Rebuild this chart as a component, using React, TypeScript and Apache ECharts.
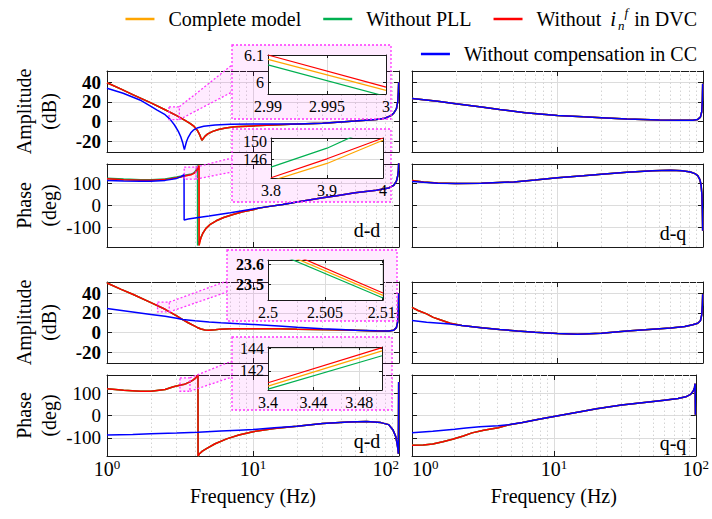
import React, { useEffect, useRef } from 'react';
import * as echarts from 'echarts';

const FONT = "'Liberation Serif', 'Times New Roman', serif";

const SERIES_NAMES = ['Complete model', 'Without PLL', 'Without i_n^f in DVC', 'Without compensation in CC'];
const SERIES_COLORS = ['#FFA500', '#00B050', '#FF0000', '#0000FF'];

const FREQ_MIN = 1;
const FREQ_MAX = 100;
const MINOR_FREQS = [2, 3, 4, 5, 6, 7, 8, 9, 20, 30, 40, 50, 60, 70, 80, 90];
const AMP_TICKS = [-20, 0, 20, 40];
const PHASE_TICKS = [-100, 0, 100];
const AMP_RANGE = [-31, 51.5];
const PHASE_RANGE_TOP = [-190, 190];
const PHASE_RANGE_BOTTOM = [-182, 182];

// ---------- d-d amplitude ----------
const ddAmpTail = [[30, -1.7], [50, 0.5], [70, 2.2], [80, 3.4], [88, 6], [92, 8.5], [96, 13], [98, 20], [99, 30], [99.5, 40]];
const ddAmpRedHead = [[1, 39.5], [1.25, 33], [1.5, 27.5], [2, 19], [2.5, 12], [3, 6], [3.4, 1.5], [3.7, -1.8], [3.95, -5], [4.15, -8.8], [4.3, -13], [4.4, -16.8], [4.47, -19], [4.55, -17.5], [4.7, -14.8], [4.9, -12.5], [5.3, -10], [5.8, -8], [6.5, -6.5], [7.5, -5.4], [10, -4.4], [15, -3.3], [20, -2.6]];
const ddAmpBlueHead = [[1, 34], [1.29, 28.8], [1.68, 22], [2, 15.5], [2.19, 12], [2.5, 7], [2.7, 2.5], [2.9, -3.5], [3.08, -10], [3.2, -15.5], [3.3, -21.5], [3.36, -26.5], [3.39, -28.5], [3.43, -25.5], [3.5, -20.5], [3.6, -16], [3.75, -11.5], [3.9, -8.8], [4.2, -6.2], [4.6, -4.8], [5.5, -3.5], [7, -2.8], [10, -2.6], [15, -2.6], [20, -2.5]];

// ---------- d-d phase ----------
const ddPhaseTail = [[13, -4], [16, 5], [20, 16], [30, 35], [37.5, 45], [50, 58], [70, 70], [85, 80], [92, 92], [96, 112], [98, 135], [99, 160], [99.5, 195]];
const ddPhaseAfterJump = [[4.55, -125], [4.75, -106], [5.1, -86], [5.6, -70], [6.3, -55], [7.3, -41], [8.5, -29], [10, -19], [11, -12]];
const ddPhaseRedHead = [[1, 122], [1.3, 118], [1.7, 115.5], [2, 115.5], [2.5, 118.5], [3, 127], [3.4, 135], [3.8, 142.1], [3.9, 146.2], [4, 150.7], [4.1, 159], [4.2, 171], [4.27, 183], [4.275, -183], [4.32, -168], [4.4, -148]];
const ddPhaseGreenHead = [[1, 125], [1.3, 121], [1.7, 118], [2, 118], [2.5, 121], [3, 130], [3.4, 138], [3.8, 144.4], [3.9, 148.5], [3.95, 151], [4, 154], [4.07, 162], [4.13, 172], [4.17, 183], [4.175, -183], [4.25, -170], [4.32, -160], [4.4, -146]];
const ddPhaseBlueHead = [[1, 114], [1.3, 112], [1.7, 111], [2, 111.5], [2.5, 115], [3, 124], [3.2, 131], [3.33, 139], [3.37, 143], [3.375, -66], [3.6, -62], [4, -57], [5, -48], [7, -33], [10, -16]];

// ---------- q-d amplitude ----------
const qdAmpTail = [[85, 1.6], [92, 2.4], [96, 5], [98, 11], [99, 24], [99.5, 40]];
const qdAmpRedHead = [[1, 50.5], [1.25, 44], [1.5, 39], [2, 30.5], [2.5, 23.7], [3, 17], [3.3, 13.2], [3.6, 10], [3.9, 7.3], [4.15, 5.2], [4.4, 3.6], [4.7, 2.6], [5, 2.4], [5.5, 2.9], [6, 3.5], [7, 3.9], [10, 4], [15, 3.8], [20, 3.4], [35, 2.9], [50, 2.3], [70, 1.7]];
const qdAmpBlueHead = [[1, 24.5], [1.5, 21], [2, 18.5], [2.5, 16.5], [3, 14.5], [3.3, 13.3], [4, 12], [5, 10.8], [6, 10], [8, 9], [10, 8.3], [15, 6.8], [20, 5.5], [30, 3.8], [40, 3], [50, 2.4], [70, 1.8]];

// ---------- q-d phase ----------
const qdPhaseTail = [[20, -48], [30, -36], [45, -29], [60, -27], [75, -32], [85, -41], [91, -65], [95, -95], [97, -125], [98.5, -155], [99, -172], [99.5, 150]];
const qdPhaseRedHead = [[1, 120], [1.3, 113], [1.7, 109], [2, 109.5], [2.5, 117], [2.85, 129], [3.2, 137], [3.4, 140.9], [3.5, 144.1], [3.7, 151], [3.9, 160], [4.05, 169], [4.15, 177], [4.2, 182], [4.205, -182], [4.3, -172], [4.5, -160], [4.8, -149], [5.5, -127], [6.6, -105], [8, -88], [10, -73], [14, -58]];
const qdPhaseBlueHead = [[1, -88], [1.5, -85], [2, -82], [3, -79], [4.2, -75], [6, -70], [8, -66], [10, -63], [14, -55]];

// ---------- d-q ----------
const dqAmp = [[1, 23.6], [1.5, 20.8], [2, 18.2], [3, 14.8], [4, 12.2], [6, 9], [10, 6.3], [15, 4.8], [20, 4], [30, 2.6], [50, 1.6], [70, 1.3], [85, 1.4], [92, 2.2], [96, 4.5], [98, 10], [99, 22], [99.5, 38.6]];
const dqPhaseTail = [[2, 100.5], [3, 101.5], [5, 108], [7, 117], [10, 127], [15, 136], [20, 143], [30, 152], [45, 159], [60, 161], [72, 159], [82, 153], [88, 146], [92, 137], [95, 120], [97, 95], [98.3, 50], [99, -20], [99.5, -115]];
const dqPhaseRedHead = [[1, 114], [1.2, 108], [1.5, 103]];
const dqPhaseBlueHead = [[1, 110], [1.2, 106], [1.5, 102]];

// ---------- q-q ----------
const qqAmpTail = [[2.2, 7.2], [3, 5], [4, 3.2], [5.3, 1.6], [7, 0.2], [10, -1], [13.7, -1.7], [20, -0.7], [30, 1.6], [40, 2.8], [60, 4.6], [75, 6.2], [85, 8], [92, 9.5], [96, 12], [98, 18], [99, 28], [99.5, 39]];
const qqAmpRedHead = [[1, 25.6], [1.1, 22.5], [1.26, 19], [1.4, 15.5], [1.56, 13], [1.83, 9.5]];
const qqAmpBlueHead = [[1, 12.3], [1.26, 10.6], [1.56, 9.6], [1.83, 8.6]];
const qqPhaseTail = [[6, -31], [8, -16], [10, -4], [15, 16], [20, 30], [30, 47], [45, 60], [60, 69], [75, 76], [85, 84], [92, 95], [96, 110], [98, 125], [99, 143], [99.5, 3]];
const qqPhaseRedHead = [[1, -134], [1.2, -133], [1.4, -128], [1.65, -118], [1.93, -107], [2.3, -92], [2.65, -78], [3.2, -66], [4.05, -55], [4.75, -43]];
const qqPhaseBlueHead = [[1, -78], [1.4, -71], [2, -62], [2.4, -56], [3, -51], [4.05, -46], [4.75, -42]];

// ---------- zoom insets ----------
const in1Orange = [[2.99, 6.084], [3.0, 5.971]];
const in1Green = [[2.99, 6.064], [3.0, 5.949]];
const in1Red = [[2.99, 6.1], [3.0, 5.983]];
const in2Orange = [[3.8, 141.4], [3.9, 145.2], [4.0, 150.2]];
const in2Green = [[3.8, 144.4], [3.9, 148.5], [4.0, 154]];
const in2Red = [[3.8, 142.1], [3.9, 146.2], [4.0, 150.7]];
const in3Orange = [[2.5, 23.687], [2.5101, 23.443]];
const in3Green = [[2.5, 23.673], [2.5101, 23.43]];
const in3Red = [[2.5, 23.702], [2.5101, 23.455]];
const in4Orange = [[3.4, 140.63], [3.5, 143.8]];
const in4Green = [[3.4, 140.36], [3.5, 143.36]];
const in4Red = [[3.4, 140.93], [3.5, 144.1]];

const ddAmpRed = [...ddAmpRedHead, ...ddAmpTail];
const ddAmpBlue = [...ddAmpBlueHead, ...ddAmpTail];
const ddPhaseRed = [...ddPhaseRedHead, ...ddPhaseAfterJump, ...ddPhaseTail];
const ddPhaseGreen = [...ddPhaseGreenHead, ...ddPhaseAfterJump, ...ddPhaseTail];
const ddPhaseBlue = [...ddPhaseBlueHead, ...ddPhaseTail];
const qdAmpRed = [...qdAmpRedHead, ...qdAmpTail];
const qdAmpBlue = [...qdAmpBlueHead, ...qdAmpTail];
const qdPhaseRed = [...qdPhaseRedHead, ...qdPhaseTail];
const qdPhaseBlue = [...qdPhaseBlueHead, ...qdPhaseTail];
const dqPhaseRed = [...dqPhaseRedHead, ...dqPhaseTail];
const dqPhaseBlue = [...dqPhaseBlueHead, ...dqPhaseTail];
const qqAmpRed = [...qqAmpRedHead, ...qqAmpTail];
const qqAmpBlue = [...qqAmpBlueHead, ...qqAmpTail];
const qqPhaseRed = [...qqPhaseRedHead, ...qqPhaseTail];
const qqPhaseBlue = [...qqPhaseBlueHead, ...qqPhaseTail];

// ---------- layout ----------
const COL_LEFT = [107, 412];
const COL_W = [292, 291];
const ROW_TOP = [71, 164, 282, 375];
const ROW_H = [81, 83, 81, 81];
const ROW_RANGE = [AMP_RANGE, PHASE_RANGE_TOP, AMP_RANGE, PHASE_RANGE_BOTTOM];

const MAIN_PANELS = [
  { row: 0, col: 0, curves: [ddAmpRed, ddAmpRed, ddAmpRed, ddAmpBlue] },
  { row: 0, col: 1, curves: [dqAmp, dqAmp, dqAmp, dqAmp] },
  { row: 1, col: 0, curves: [ddPhaseRed, ddPhaseGreen, ddPhaseRed, ddPhaseBlue] },
  { row: 1, col: 1, curves: [dqPhaseRed, dqPhaseRed, dqPhaseRed, dqPhaseBlue] },
  { row: 2, col: 0, curves: [qdAmpRed, qdAmpRed, qdAmpRed, qdAmpBlue] },
  { row: 2, col: 1, curves: [qqAmpRed, qqAmpRed, qqAmpRed, qqAmpBlue] },
  { row: 3, col: 0, curves: [qdPhaseRed, qdPhaseRed, qdPhaseRed, qdPhaseBlue] },
  { row: 3, col: 1, curves: [qqPhaseRed, qqPhaseRed, qqPhaseRed, qqPhaseBlue] },
];

const INSETS = [
  { left: 268, top: 55, width: 118, height: 39, xMin: 2.99, xMax: 3.0, xTicks: [2.99, 2.995, 3], yMin: 5.958, yMax: 6.1, yTicks: [6, 6.1], bold: false, curves: [in1Orange, in1Green, in1Red] },
  { left: 271, top: 138, width: 112, height: 40, xMin: 3.8, xMax: 4.0, xTicks: [3.8, 3.9, 4], yMin: 142.05, yMax: 150.7, yTicks: [146, 150], bold: false, curves: [in2Orange, in2Green, in2Red] },
  { left: 268, top: 260, width: 115, height: 40, xMin: 2.5, xMax: 2.5101, xTicks: [2.5, 2.505, 2.51], yMin: 23.42, yMax: 23.62, yTicks: [23.5, 23.6], bold: true, curves: [in3Orange, in3Green, in3Red] },
  { left: 268, top: 347, width: 114, height: 43, xMin: 3.4, xMax: 3.5, xTicks: [3.4, 3.44, 3.48], yMin: 140.28, yMax: 144.15, yTicks: [142, 144], bold: false, curves: [in4Orange, in4Green, in4Red] },
];

const ZOOM_MARKS = [
  { panel: 0, f: [2.66, 3.13], v: [2, 15], outer: [232, 45, 391, 119], link: [[232, 65], [232, 92]] },
  { panel: 2, f: [3.38, 4.07], v: [121, 176], outer: [232, 129, 391, 202], link: [[232, 158], [232, 172]] },
  { panel: 4, f: [2.22, 2.67], v: [21, 31], outer: [227, 250, 397, 321], link: [[227, 281], [227, 292]] },
  { panel: 6, f: [3.16, 3.7], v: [109, 169], outer: [232, 337, 392, 410], link: [[232, 361], [232, 377]] },
];

const PANEL_TAGS = [
  { text: 'd-d', x: 367, y: 230 },
  { text: 'd-q', x: 673, y: 233 },
  { text: 'q-d', x: 367, y: 441 },
  { text: 'q-q', x: 673, y: 443 },
];

const AXIS_COLOR = '#1a1a1a';
const GRID_COLOR = '#dcdcdc';
const MAGENTA = '#FF33FF';
const PINK_FILL = 'rgba(255,0,255,0.08)';

const fmtNum = (v: number) => String(+Number(v).toFixed(4));

function buildOption() {
  const grid: any[] = [];
  const xAxis: any[] = [];
  const yAxis: any[] = [];
  const series: any[] = [];
  const axisLine = { show: true, onZero: false, lineStyle: { color: AXIS_COLOR, width: 1 } };

  MAIN_PANELS.forEach((p, i) => {
    const isBottom = p.row === 3;
    const isLeft = p.col === 0;
    const isAmp = p.row % 2 === 0;
    const [yMin, yMax] = ROW_RANGE[p.row];
    const yTicks = isAmp ? AMP_TICKS : PHASE_TICKS;
    grid.push({ left: COL_LEFT[p.col], top: ROW_TOP[p.row], width: COL_W[p.col], height: ROW_H[p.row], show: false });
    const xBase = {
      type: 'log', logBase: 10, gridIndex: i, min: FREQ_MIN, max: FREQ_MAX, z: 0,
      axisLine, axisTick: { show: true, inside: true, length: 5, lineStyle: { color: AXIS_COLOR } },
    };
    xAxis.push({
      ...xBase, position: 'bottom',
      axisLabel: isBottom ? {
        show: true, margin: 2,
        alignMinLabel: isLeft ? 'center' : 'left',
        alignMaxLabel: isLeft ? 'right' : 'center',
        formatter: (v: number) => `{b|10}{e|${Math.round(Math.log10(v))}}`,
        rich: {
          b: { fontFamily: FONT, fontSize: 20, color: '#000', lineHeight: 21, verticalAlign: 'bottom' },
          e: { fontFamily: FONT, fontSize: 13, color: '#000', lineHeight: 13, verticalAlign: 'top' },
        },
      } : { show: false },
      splitLine: { show: true, lineStyle: { color: GRID_COLOR, width: 1 } },
      name: isBottom ? 'Frequency (Hz)' : '', nameLocation: 'middle', nameGap: 30,
      nameTextStyle: { fontFamily: FONT, fontSize: 20, color: '#000' },
    });
    xAxis.push({ ...xBase, position: 'top', axisLabel: { show: false }, splitLine: { show: false } });
    const yBase = {
      type: 'value', gridIndex: i, min: yMin, max: yMax, z: 0, axisLine,
      axisTick: { show: true, inside: true, length: 5, customValues: yTicks, lineStyle: { color: AXIS_COLOR } },
    };
    yAxis.push({
      ...yBase, position: 'left',
      axisLabel: isLeft ? {
        show: true, customValues: yTicks, fontFamily: FONT, fontSize: 19,
        fontWeight: isAmp ? 'bold' : 'normal', color: '#000', margin: 6,
      } : { show: false },
      splitLine: { show: true, lineStyle: { color: GRID_COLOR, width: 1 } },
      name: isLeft ? (isAmp ? 'Amplitude\n(dB)' : 'Phase\n(deg)') : '',
      nameLocation: 'middle', nameRotate: 90, nameGap: 46,
      nameTextStyle: { fontFamily: FONT, fontSize: 20, color: '#000', lineHeight: 25 },
    });
    yAxis.push({ ...yBase, position: 'right', axisLabel: { show: false }, splitLine: { show: false } });

    series.push({
      type: 'line', xAxisIndex: 2 * i, yAxisIndex: 2 * i, data: [], silent: true, z: 1,
      markLine: {
        silent: true, symbol: 'none', z: 1, animation: false, label: { show: false },
        lineStyle: { color: '#d4d4d4', type: [1.5, 2.5], width: 1 },
        data: MINOR_FREQS.map((f) => ({ xAxis: f })),
      },
    });
    p.curves.forEach((data, k) => {
      series.push({
        type: 'line', name: SERIES_NAMES[k], xAxisIndex: 2 * i, yAxisIndex: 2 * i, data,
        symbol: 'none', showSymbol: false, silent: true, z: 2,
        lineStyle: { color: SERIES_COLORS[k], width: 1.5 }, itemStyle: { color: SERIES_COLORS[k] },
      });
    });
  });

  INSETS.forEach((s, j) => {
    const gi = MAIN_PANELS.length + j;
    const ai = 2 * gi;
    grid.push({ left: s.left, top: s.top, width: s.width, height: s.height, show: true, backgroundColor: '#fff', borderWidth: 0, z: 20 });
    const xBase = {
      type: 'value', gridIndex: gi, min: s.xMin, max: s.xMax, z: 21, axisLine,
      axisTick: { show: true, inside: true, length: 3, customValues: s.xTicks, lineStyle: { color: AXIS_COLOR } },
    };
    xAxis.push({
      ...xBase, position: 'bottom',
      axisLabel: { show: true, customValues: s.xTicks, formatter: fmtNum, fontFamily: FONT, fontSize: 16, color: '#000', margin: 4 },
      splitLine: { show: true, lineStyle: { color: GRID_COLOR, width: 1 } },
    });
    xAxis.push({ ...xBase, position: 'top', axisLabel: { show: false }, splitLine: { show: false } });
    const yBase = {
      type: 'value', gridIndex: gi, min: s.yMin, max: s.yMax, z: 21, axisLine,
      axisTick: { show: true, inside: true, length: 3, customValues: s.yTicks, lineStyle: { color: AXIS_COLOR } },
    };
    yAxis.push({
      ...yBase, position: 'left',
      axisLabel: { show: true, customValues: s.yTicks, formatter: fmtNum, fontFamily: FONT, fontSize: 16, fontWeight: s.bold ? 'bold' : 'normal', color: '#000', margin: 4 },
      splitLine: { show: true, lineStyle: { color: GRID_COLOR, width: 1 } },
    });
    yAxis.push({ ...yBase, position: 'right', axisLabel: { show: false }, splitLine: { show: false } });
    s.curves.forEach((data, k) => {
      series.push({
        type: 'line', name: SERIES_NAMES[k], xAxisIndex: ai, yAxisIndex: ai, data,
        symbol: 'none', showSymbol: false, silent: true, z: 22, clip: true,
        lineStyle: { color: SERIES_COLORS[k], width: 1.2 }, itemStyle: { color: SERIES_COLORS[k] },
      });
    });
  });

  const legendText = {
    fontFamily: FONT, fontSize: 20, color: '#000', lineHeight: 26, padding: [0, 0, 0, 9],
    rich: {
      t: { fontFamily: FONT, fontSize: 20, color: '#000', lineHeight: 26, verticalAlign: 'middle' },
      i: { fontFamily: FONT, fontSize: 21, fontStyle: 'italic', color: '#000', lineHeight: 26, verticalAlign: 'middle', padding: [0, 2, 0, 4] },
      sb: { fontFamily: FONT, fontSize: 13, fontStyle: 'italic', color: '#000', lineHeight: 14, verticalAlign: 'bottom' },
      sp: { fontFamily: FONT, fontSize: 13, fontStyle: 'italic', color: '#000', lineHeight: 14, verticalAlign: 'top', padding: [0, 6, 0, 0] },
    },
  };
  const legendFmt = (name: string) => (name === SERIES_NAMES[2] ? '{t|Without }{i|i}{sb|n}{sp|f}{t|in DVC}' : name);
  const legendBase = {
    right: 10, itemWidth: 29, itemHeight: 2.5, itemGap: 22, selectedMode: false, icon: 'rect',
    textStyle: legendText, formatter: legendFmt,
  };

  return {
    animation: false,
    backgroundColor: '#fff',
    textStyle: { fontFamily: FONT },
    legend: [
      { ...legendBase, top: 1, data: SERIES_NAMES.slice(0, 3) },
      { ...legendBase, top: 36, data: [SERIES_NAMES[3]] },
    ],
    grid, xAxis, yAxis, series,
  };
}

function buildGraphics(chart: any) {
  const els: any[] = [];
  const dash = { stroke: MAGENTA, lineWidth: 1.3, lineDash: [2, 2] };
  ZOOM_MARKS.forEach((m) => {
    const finder = { xAxisIndex: 2 * m.panel, yAxisIndex: 2 * m.panel };
    const tl = chart.convertToPixel(finder, [m.f[0], m.v[1]]);
    const br = chart.convertToPixel(finder, [m.f[1], m.v[0]]);
    if (!tl || !br) return;
    const [ox, oy, ox2, oy2] = m.outer;
    els.push({ type: 'polygon', silent: true, z: 9, shape: { points: [[br[0], tl[1]], m.link[0], m.link[1], [br[0], br[1]]] }, style: { fill: PINK_FILL } });
    els.push({ type: 'line', silent: true, z: 10, shape: { x1: br[0], y1: tl[1], x2: m.link[0][0], y2: m.link[0][1] }, style: { ...dash, fill: null } });
    els.push({ type: 'line', silent: true, z: 10, shape: { x1: br[0], y1: br[1], x2: m.link[1][0], y2: m.link[1][1] }, style: { ...dash, fill: null } });
    els.push({ type: 'rect', silent: true, z: 10, shape: { x: tl[0], y: tl[1], width: br[0] - tl[0], height: br[1] - tl[1] }, style: { ...dash, fill: PINK_FILL } });
    els.push({ type: 'rect', silent: true, z: 10, shape: { x: ox, y: oy, width: ox2 - ox, height: oy2 - oy }, style: { ...dash, fill: PINK_FILL } });
  });
  PANEL_TAGS.forEach((t) => {
    els.push({
      type: 'text', silent: true, z: 5, x: t.x, y: t.y,
      style: { text: t.text, fontFamily: FONT, fontSize: 20, fill: '#000', align: 'center', verticalAlign: 'middle', textAlign: 'center', textVerticalAlign: 'middle' },
    });
  });
  return els;
}

export default function App() {
  const ref = useRef<HTMLDivElement>(null);
  useEffect(() => {
    if (!ref.current) return;
    const chart = echarts.init(ref.current, null, { renderer: 'svg' });
    chart.setOption(buildOption() as any);
    chart.setOption({ graphic: buildGraphics(chart) } as any);
    return () => chart.dispose();
  }, []);
  return <div ref={ref} style={{ position: 'absolute', left: 0, top: 0, width: 712, height: 519 }} />;
}
